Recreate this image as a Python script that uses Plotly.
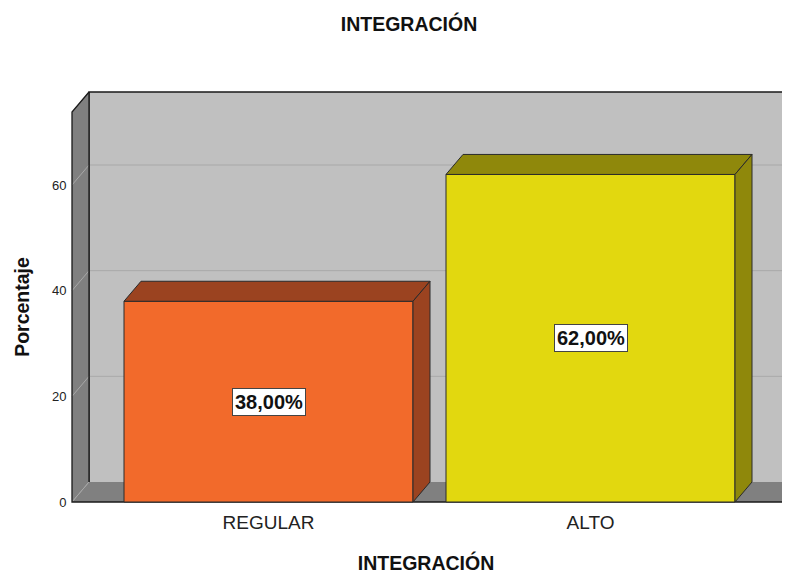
import plotly.graph_objects as go

# ---- data ----
categories = ["REGULAR", "ALTO"]
percentages = [38.0, 62.0]
y_tick_values = [0, 20, 40, 60]

# ---- styles ----
front_colors = ["#f26a2b", "#e2d80f"]
shade_colors = ["#9b4320", "#8f880b"]
FONT = "Liberation Sans, Arial, sans-serif"
TXT = "#111111"

# page offset of the figure (default body margin)
OFF = 8
W_FIG, H_FIG = 790 - OFF, 574 - OFF

# ---- geometry (axis units) ----
PX_X = 322.0      # px per x unit
PX_Y = 5.283      # px per y unit
BAR_W = 289 / PX_X
DX = 17 / PX_X
DY = 20 / PX_Y
XL = (72 - 268.5) / PX_X
XR = (787 - 268.5) / PX_X
YT = (502 - 112) / PX_Y
X_RANGE = [(62 - 268.5) / PX_X, (790 - 268.5) / PX_X]
Y_RANGE = [-(528 - 502) / PX_Y, (502 - 86) / PX_Y]

xs = list(range(len(categories)))


def poly(pts, close=True):
    s = "M " + " L ".join(f"{x:.5f},{y:.5f}" for x, y in pts)
    return s + (" Z" if close else "")


shapes = []
# back wall
shapes.append(dict(type="path", layer="below", line=dict(width=0), fillcolor="#c0c0c0",
                   path=poly([(XL + DX, DY), (XR + DX + 1, DY), (XR + DX + 1, YT + DY), (XL + DX, YT + DY)])))
# back wall gridlines
for t in y_tick_values[1:]:
    shapes.append(dict(type="line", layer="below", x0=XL + DX, x1=XR + DX + 1, y0=t + DY, y1=t + DY,
                       line=dict(color="#a9a9a9", width=1)))
# back wall border
shapes.append(dict(type="path", layer="below", line=dict(color="#1a1a1a", width=1.3),
                   path=poly([(XL + DX, DY), (XL + DX, YT + DY), (XR + DX + 1, YT + DY)], close=False)))
# left wall
shapes.append(dict(type="path", layer="below", line=dict(width=0), fillcolor="#808080",
                   path=poly([(XL, 0), (XL + DX, DY), (XL + DX, YT + DY), (XL, YT)])))
# floor
shapes.append(dict(type="path", layer="below", line=dict(width=0), fillcolor="#808080",
                   path=poly([(XL, 0), (XR, 0), (XR + DX, DY), (XL + DX, DY)])))
# left wall gridlines
for t in y_tick_values:
    shapes.append(dict(type="line", layer="below", x0=XL, x1=XL + DX, y0=t, y1=t + DY,
                       line=dict(color="#a8a8a8", width=1)))
# back wall left edge (over walls)
shapes.append(dict(type="line", layer="below", x0=XL + DX, x1=XL + DX, y0=DY, y1=YT + DY,
                   line=dict(color="#1a1a1a", width=1.3)))
# outer outline: left wall front & top, floor front & right
shapes.append(dict(type="path", layer="below", line=dict(color="#1a1a1a", width=1.3),
                   path=poly([(XL + DX, YT + DY), (XL, YT), (XL, 0), (XR, 0), (XR + DX, DY)], close=False)))

fig = go.Figure()

# 3D faces of the bars (top and side), computed from the values
for x, v, sc in zip(xs, percentages, shade_colors):
    x0, x1 = x - BAR_W / 2, x + BAR_W / 2
    top = [(x0, v), (x1, v), (x1 + DX, v + DY), (x0 + DX, v + DY), (x0, v)]
    side = [(x1, 0), (x1 + DX, DY), (x1 + DX, v + DY), (x1, v), (x1, 0)]
    for face in (top, side):
        fig.add_trace(go.Scatter(
            x=[p[0] for p in face], y=[p[1] for p in face], mode="lines", fill="toself",
            fillcolor=sc, line=dict(color="#2a2a2a", width=1), hoverinfo="skip", showlegend=False))

# front faces
fig.add_trace(go.Bar(
    x=xs, y=percentages, width=BAR_W, base=0,
    marker=dict(color=front_colors, line=dict(color="#2a2a2a", width=1)),
    hoverinfo="skip", showlegend=False))

annotations = []
for x, v in zip(xs, percentages):
    annotations.append(dict(
        x=x, y=v / 2, xref="x", yref="y", showarrow=False,
        text="<b>" + f"{v:.2f}".replace(".", ",") + "%</b>",
        font=dict(family=FONT, size=20, color=TXT),
        bgcolor="#ffffff", bordercolor="#444444", borderwidth=1, borderpad=2))

fig.update_layout(
    width=W_FIG, height=H_FIG,
    margin=dict(l=62 - OFF, r=0, t=86 - OFF, b=574 - 528, pad=0),
    paper_bgcolor="#ffffff", plot_bgcolor="rgba(0,0,0,0)",
    font=dict(family=FONT, color=TXT),
    title=dict(text="<b>INTEGRACIÓN</b>", font=dict(family=FONT, size=19.5, color=TXT),
               x=(409 - OFF) / W_FIG, xref="container", xanchor="center",
               y=1 - (24 - OFF) / H_FIG, yref="container", yanchor="middle"),
    shapes=shapes,
    annotations=annotations,
    showlegend=False,
    xaxis=dict(range=X_RANGE, anchor="free", position=(528 - 502) / 442,
               tickvals=xs, ticktext=categories, tickfont=dict(family=FONT, size=19, color="#222222"),
               ticks="outside", ticklen=3, tickcolor="rgba(0,0,0,0)",
               showgrid=False, zeroline=False, showline=False, fixedrange=True,
               title=dict(text="<b>INTEGRACIÓN</b>", font=dict(family=FONT, size=19.5, color=TXT), standoff=24)),
    yaxis=dict(range=Y_RANGE, anchor="free", position=10 / 728,
               tickvals=y_tick_values, tickfont=dict(family=FONT, size=13, color="#222222"),
               ticks="outside", ticklen=3, tickcolor="rgba(0,0,0,0)",
               showgrid=False, zeroline=False, showline=False, fixedrange=True,
               title=dict(text="<b>Porcentaje</b>", font=dict(family=FONT, size=19.5, color=TXT), standoff=16)),
)

fig.write_html("out.html")
